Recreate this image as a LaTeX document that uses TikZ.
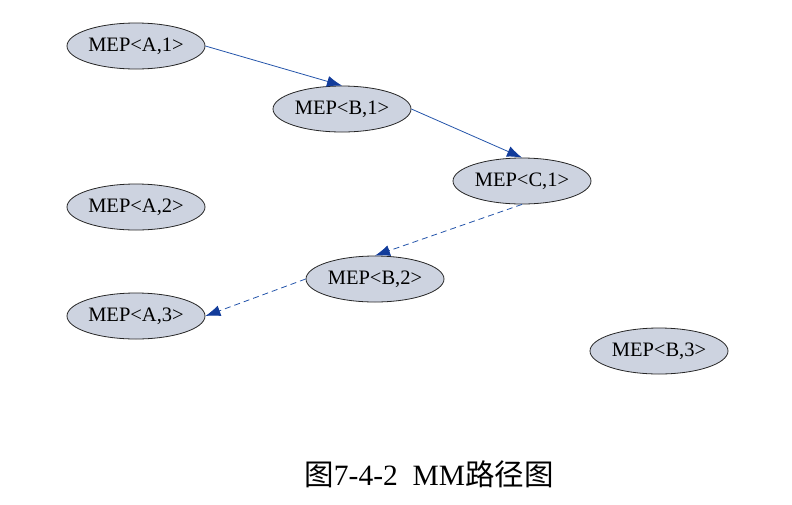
\documentclass[tikz,border=0pt]{standalone}
\usepackage{fontspec}
\setmainfont{Liberation Serif}
\newfontfamily\cjk{Noto Sans CJK SC}
\usepackage{tikz}
\usetikzlibrary{shapes.geometric,arrows.meta}

\definecolor{mepfill}{RGB}{205,211,224}
\definecolor{pathblue}{RGB}{36,84,170}
\definecolor{tipblue}{RGB}{18,60,155}

\begin{document}
\begin{tikzpicture}[x=1pt, y=-1pt,
    mep/.style={ellipse, draw=black!85, fill=mepfill, line width=0.8pt,
        minimum width=138pt, minimum height=46pt, inner sep=0pt,
        font=\fontsize{20.5}{23}\selectfont},
    hop/.style={draw=pathblue, line width=0.8pt,
        -{Latex[length=15pt, width=11pt, color=tipblue]}},
    back/.style={hop, dash pattern=on 6pt off 4pt}
    ]
    \useasboundingbox (0,0) rectangle (792,504);

    % MEP nodes
    \node[mep] (a1) at (136,46)  {MEP<A,1>};
    \node[mep] (b1) at (342,109) {MEP<B,1>};
    \node[mep] (c1) at (522,181) {MEP<C,1>};
    \node[mep] (a2) at (136,207) {MEP<A,2>};
    \node[mep] (b2) at (375,279) {MEP<B,2>};
    \node[mep] (a3) at (136,316) {MEP<A,3>};
    \node[mep] (b3) at (659,351) {MEP<B,3>};

    % forward path
    \draw[hop] (a1.east) -- (b1.north);
    \draw[hop] (b1.east) -- (c1.north);
    % way back
    \draw[back] (c1.south) -- (b2.north);
    \draw[back] (b2.west) -- (a3.east);

    \node[font=\fontsize{29.5}{34}\selectfont] (caption) at (429,474)
        {{\cjk 图}7-4-2\ \ MM{\cjk 路径图}};
\end{tikzpicture}
\end{document}
